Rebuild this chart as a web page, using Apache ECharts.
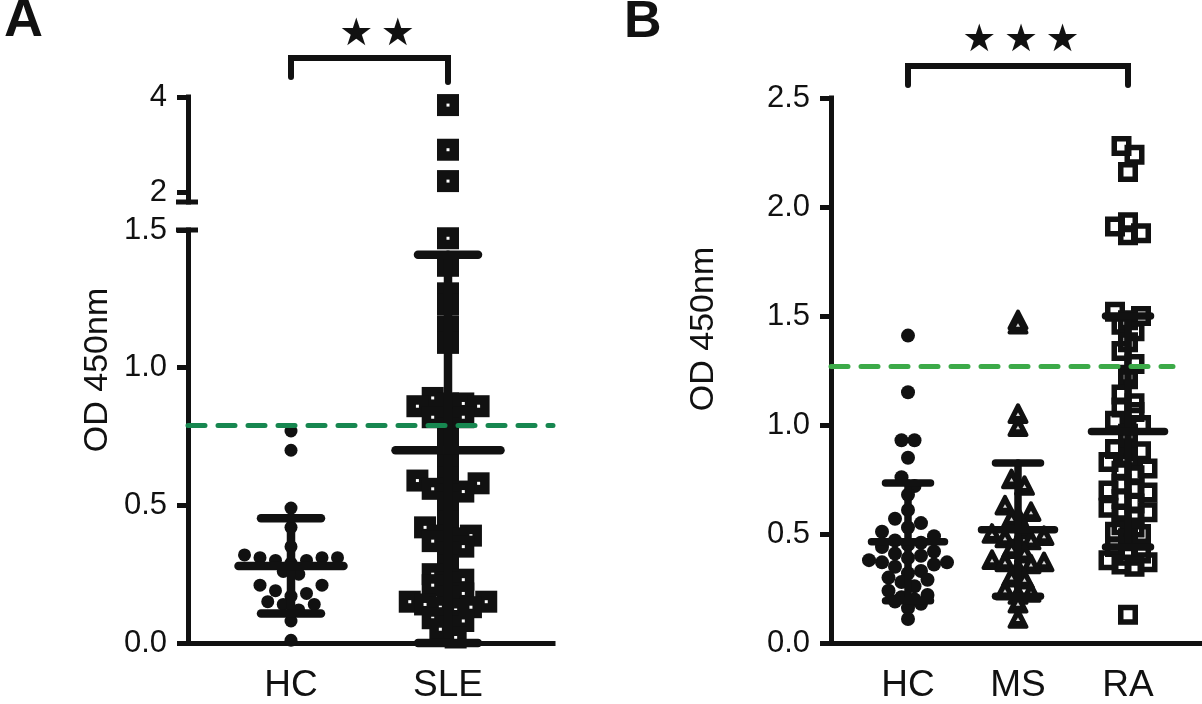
<!DOCTYPE html>
<html><head><meta charset="utf-8">
<script src="https://cdn.jsdelivr.net/npm/echarts@6/dist/echarts.min.js"></script>
<style>html,body{margin:0;padding:0;background:#fff}#c{width:1202px;height:704px}</style>
</head><body><div id="c"></div>
<script>
// ---------------- data ----------------
const catsA = ['HC', 'SLE'];
const catsB = ['HC', 'MS', 'RA'];

const hcA = [0.77, 0.70, 0.49, 0.42, 0.35, 0.32, 0.31, 0.31, 0.31, 0.30, 0.30, 0.29, 0.26, 0.25,
             0.21, 0.21, 0.19, 0.18, 0.17, 0.15, 0.14, 0.14, 0.12, 0.08, 0.01];
const sleA = [3.83, 2.89, 2.23,
              1.47, 1.37, 1.27, 1.23, 1.15, 1.09, 0.89, 0.87, 0.87, 0.86, 0.86, 0.82, 0.82, 0.81,
              0.78, 0.74, 0.66, 0.60, 0.59, 0.58, 0.56, 0.55, 0.54, 0.51, 0.44, 0.42, 0.39, 0.39,
              0.38, 0.37, 0.35, 0.33, 0.28, 0.25, 0.23, 0.22, 0.21, 0.18, 0.17, 0.15, 0.15, 0.14,
              0.13, 0.13, 0.12, 0.09, 0.08, 0.06, 0.05, 0.02];
const meanA = [0.28, 0.70];
const sdA = [0.173, 0.71];
const cutoffA = 0.792;

const hcB = [1.41, 1.15, 0.93, 0.93, 0.85, 0.76, 0.72, 0.68, 0.61, 0.57, 0.55, 0.53, 0.51, 0.49,
             0.47, 0.46, 0.45, 0.44, 0.42, 0.41, 0.40, 0.39, 0.38, 0.37, 0.37, 0.36, 0.35, 0.33,
             0.32, 0.30, 0.29, 0.28, 0.26, 0.24, 0.22, 0.21, 0.20, 0.19, 0.18, 0.16, 0.11];
const msB = [1.48, 1.46, 1.05, 0.99, 0.75, 0.72, 0.63, 0.60, 0.58, 0.57, 0.52, 0.50, 0.49, 0.48,
             0.47, 0.46, 0.43, 0.41, 0.38, 0.37, 0.37, 0.36, 0.34, 0.30, 0.29, 0.24, 0.23, 0.22,
             0.18, 0.11];
const raB = [2.28, 2.24, 2.16, 1.93, 1.91, 1.88, 1.87, 1.52, 1.50, 1.48, 1.46, 1.43, 1.38, 1.34,
             1.28, 1.23, 1.21, 1.14, 1.10, 1.08, 1.06, 1.02, 1.00, 0.96, 0.93, 0.89, 0.88, 0.85,
             0.83, 0.80, 0.79, 0.77, 0.73, 0.71, 0.70, 0.69, 0.66, 0.64, 0.62, 0.60, 0.59, 0.58,
             0.54, 0.53, 0.51, 0.50, 0.48, 0.44, 0.41, 0.40, 0.38, 0.37, 0.36, 0.35, 0.13];
const meanB = [0.464, 0.52, 0.97];
const sdB = [0.27, 0.306, 0.53];
const cutoffB = 1.27;

const ticksAUpper = [2, 4];
const ticksALower = [0, 0.5, 1.0, 1.5];
const ticksB = [0, 0.5, 1.0, 1.5, 2.0, 2.5];
const axisBreak = [1.5, 1.79];   // top of lower segment, bottom of upper segment
const starsA = '\u2605\u2009\u2605';
const starsB = '\u2605\u2009\u2605\u2009\u2605';
const yTitle = 'OD 450nm';

// ---------------- layout ----------------
const INK = '#111111';
const FONT = '"Liberation Sans", Arial, Helvetica, sans-serif';
const A = { left: 188, right: 553, lowTop: 230, bottom: 647, upTop: 97, upBottom: 202, c1: 291, step: 157 };
const B = { left: 831, right: 1200, top: 98, bottom: 646, c1: 908, step: 110, cutEnd: 1173 };
const xMinA = 1 - (A.c1 - A.left) / A.step, xMaxA = 2 + (A.right - (A.c1 + A.step)) / A.step;
const xMinB = 1 - (B.c1 - B.left) / B.step, xMaxB = 3 + (B.right - (B.c1 + 2 * B.step)) / B.step;
const pxA = (A.bottom - A.lowTop) / (axisBreak[0] - 0);
const pxB = (B.bottom - B.top) / 2.5;

// beeswarm: bin values into rows and centre each row's points horizontally
function swarm(values, pxPerUnit, binPx) {
  const binV = binPx / pxPerUnit;
  const order = values.map((v, i) => i).sort((a, b) => values[a] - values[b]);
  const bins = new Map();
  order.forEach(i => {
    const b = Math.floor(values[i] / binV);
    if (!bins.has(b)) bins.set(b, []);
    bins.get(b).push(i);
  });
  const slots = new Array(values.length).fill(0);
  bins.forEach(list => {
    const n = list.length;
    const pos = [];
    for (let k = 0; k < n; k++) pos.push(k - (n - 1) / 2);
    pos.sort((a, b) => Math.abs(a) - Math.abs(b) || b - a);
    list.forEach((idx, k) => { slots[idx] = pos[k]; });
  });
  return slots;
}
function build(values, g, pxPerUnit, binPx) {
  const s = swarm(values, pxPerUnit, binPx);
  return values.map((v, i) => [g, v, s[i]]);
}

const sleLow = sleA.filter(v => v <= axisBreak[0] + 0.05);
const sleHigh = sleA.filter(v => v > axisBreak[0] + 0.05);

function pointRender(kind, slotPx, size) {
  return function (params, api) {
    const c = api.coord([api.value(0), api.value(1)]);
    const x = c[0] + api.value(2) * slotPx, y = c[1];
    if (kind === 'dot') {
      return { type: 'circle', shape: { cx: x, cy: y, r: size / 2 }, style: { fill: INK } };
    }
    if (kind === 'thickSquare') {
      const h = size / 2;
      return { type: 'group', children: [
        { type: 'rect', shape: { x: x - h, y: y - h, width: size, height: size }, style: { fill: INK } },
        { type: 'rect', shape: { x: x - 1.5, y: y - 1.5, width: 3, height: 3 }, style: { fill: '#fff' } }
      ] };
    }
    if (kind === 'openSquare') {
      const lw = 5.5, s = size - lw;
      return { type: 'rect', shape: { x: x - s / 2, y: y - s / 2, width: s, height: s },
               style: { fill: null, stroke: INK, lineWidth: lw } };
    }
    // triangle
    const w = size / 2, hh = size * 0.42;
    return { type: 'group', children: [
      { type: 'polygon', shape: { points: [[x, y - hh], [x + w - 2, y + hh - 1], [x - w + 2, y + hh - 1]] },
        style: { fill: INK, stroke: INK, lineWidth: 4, lineJoin: 'round' } },
      { type: 'polygon', shape: { points: [[x, y - 1.5], [x + 2, y + 2], [x - 2, y + 2]] },
        style: { fill: '#ddd' } }
    ] };
  };
}

function errRender(meanW, capW, lw) {
  return function (params, api) {
    const g = api.value(0), m = api.value(1), sd = api.value(2);
    const lo = Math.max(0, m - sd), hi = m + sd;
    const pm = api.coord([g, m]), pl = api.coord([g, lo]), ph = api.coord([g, hi]);
    const st = { stroke: INK, lineWidth: lw, lineCap: 'round' };
    const ln = (x1, y1, x2, y2) => ({ type: 'line', shape: { x1, y1, x2, y2 }, style: st });
    return { type: 'group', children: [
      ln(pm[0], pl[1], pm[0], ph[1]),
      ln(pm[0] - meanW / 2, pm[1], pm[0] + meanW / 2, pm[1]),
      ln(pm[0] - capW / 2, pl[1], pm[0] + capW / 2, pl[1]),
      ln(pm[0] - capW / 2, ph[1], pm[0] + capW / 2, ph[1])
    ] };
  };
}

function capRender(params, api) {
  const c = api.coord([api.value(0), api.value(1)]);
  return { type: 'line', shape: { x1: c[0] - 12, y1: c[1], x2: c[0] + 10, y2: c[1] },
           style: { stroke: INK, lineWidth: 5 } };
}

function bracketRender(barUp, legL, legR) {
  return function (params, api) {
    const p1 = api.coord([api.value(0), api.value(2)]);
    const p2 = api.coord([api.value(1), api.value(2)]);
    const yb = p1[1] - barUp;
    return { type: 'polyline', shape: { points: [[p1[0], p1[1] - legL], [p1[0], yb], [p2[0], yb], [p2[0], p2[1] - legR]] },
             style: { fill: null, stroke: INK, lineWidth: 6, lineCap: 'round', lineJoin: 'miter' } };
  };
}

const axisLineStyle = { color: INK, width: 5, cap: 'square' };
function yAxisCfg(gi, min, max, ticks, fmt) {
  return {
    type: 'value', gridIndex: gi, min, max,
    axisLine: { show: true, onZero: false, lineStyle: axisLineStyle },
    axisTick: { show: true, customValues: ticks, length: 11, lineStyle: { color: INK, width: 5 } },
    axisLabel: { customValues: ticks, formatter: fmt, fontSize: 31, color: INK, fontFamily: FONT, margin: 21 },
    splitLine: { show: false }
  };
}
function xAxisCfg(gi, min, max, cats, show) {
  return {
    type: 'value', gridIndex: gi, min, max, show,
    axisLine: { show: true, onZero: false, lineStyle: axisLineStyle },
    axisTick: { show: false },
    axisLabel: { customValues: cats.map((c, i) => i + 1), formatter: v => cats[Math.round(v) - 1] || '',
                 fontSize: 37, color: INK, fontFamily: FONT, margin: 24 },
    splitLine: { show: false }
  };
}

const chart = echarts.init(document.getElementById('c'), null, { renderer: 'canvas' });
chart.setOption({
  animation: false,
  backgroundColor: '#fff',
  grid: [
    { left: A.left, top: A.lowTop, width: A.right - A.left, height: A.bottom - A.lowTop },
    { left: A.left, top: A.upTop, width: A.right - A.left, height: A.upBottom - A.upTop },
    { left: B.left, top: B.top, width: B.right - B.left, height: B.bottom - B.top }
  ],
  xAxis: [
    xAxisCfg(0, xMinA, xMaxA, catsA, true),
    xAxisCfg(1, xMinA, xMaxA, catsA, false),
    xAxisCfg(2, xMinB, xMaxB, catsB, true)
  ],
  yAxis: [
    yAxisCfg(0, 0, axisBreak[0], ticksALower, v => v.toFixed(1)),
    yAxisCfg(1, axisBreak[1], 4, ticksAUpper, v => String(v)),
    yAxisCfg(2, 0, 2.5, ticksB, v => v.toFixed(1))
  ],
  series: [
    // panel A points
    { type: 'custom', xAxisIndex: 0, yAxisIndex: 0, renderItem: pointRender('dot', 15.5, 13),
      data: build(hcA, 1, pxA, 15), z: 2 },
    { type: 'custom', xAxisIndex: 0, yAxisIndex: 0, renderItem: pointRender('thickSquare', 15.3, 22),
      data: build(sleLow, 2, pxA, 15), z: 2 },
    { type: 'custom', xAxisIndex: 1, yAxisIndex: 1, renderItem: pointRender('thickSquare', 15.3, 22),
      data: sleHigh.map(v => [2, v, 0]), z: 2 },
    // panel B points
    { type: 'custom', xAxisIndex: 2, yAxisIndex: 2, renderItem: pointRender('dot', 13, 14),
      data: build(hcB, 1, pxB, 14), z: 2 },
    { type: 'custom', xAxisIndex: 2, yAxisIndex: 2, renderItem: pointRender('triangle', 13, 21),
      data: build(msB, 2, pxB, 14), z: 2 },
    { type: 'custom', xAxisIndex: 2, yAxisIndex: 2, renderItem: pointRender('openSquare', 13, 20),
      data: build(raB, 3, pxB, 14), z: 2 },
    // mean / SD bars
    { type: 'custom', xAxisIndex: 0, yAxisIndex: 0, renderItem: errRender(105, 60, 8.5),
      data: meanA.map((m, i) => [i + 1, m, sdA[i]]), z: 3 },
    { type: 'custom', xAxisIndex: 2, yAxisIndex: 2, renderItem: errRender(73, 45, 7.5),
      data: meanB.map((m, i) => [i + 1, m, sdB[i]]), z: 3 },
    // cut-off lines
    { type: 'custom', xAxisIndex: 0, yAxisIndex: 0, renderItem: () => null, data: [], z: 4,
      markLine: { silent: true, symbol: 'none', label: { show: false }, animation: false,
        lineStyle: { color: '#178750', width: 5, type: [17, 13], cap: 'round' },
        data: [{ yAxis: cutoffA }] } },
    { type: 'custom', xAxisIndex: 2, yAxisIndex: 2, renderItem: () => null, data: [], z: 4,
      markLine: { silent: true, symbol: 'none', label: { show: false }, animation: false,
        lineStyle: { color: '#3caa48', width: 5, type: [17, 13], cap: 'round' },
        data: [[{ coord: [xMinB, cutoffB] }, { coord: [3 + (B.cutEnd - (B.c1 + 2 * B.step)) / B.step, cutoffB] }]] } },
    // axis break caps
    { type: 'custom', xAxisIndex: 0, yAxisIndex: 0, renderItem: capRender, data: [[xMinA, axisBreak[0]]], z: 5 },
    { type: 'custom', xAxisIndex: 1, yAxisIndex: 1, renderItem: capRender, data: [[xMinA, axisBreak[1]]], z: 5 },
    // significance brackets
    { type: 'custom', xAxisIndex: 1, yAxisIndex: 1, renderItem: bracketRender(39, 20, 15), data: [[1, 2, 4]], z: 5 },
    { type: 'custom', xAxisIndex: 2, yAxisIndex: 2, renderItem: bracketRender(32, 13, 13), data: [[1, 3, 2.5]], z: 5 }
  ],
  graphic: [
    { type: 'text', left: 4, top: -6, style: { text: 'A', font: 'bold 54px ' + FONT, fill: INK } },
    { type: 'text', left: 624, top: -3, style: { text: 'B', font: 'bold 52px ' + FONT, fill: INK } },
    { type: 'text', x: 377, y: 35, style: { text: starsA, font: '38px "DejaVu Sans"', fill: INK, align: 'center', verticalAlign: 'middle' } },
    { type: 'text', x: 1021, y: 41, style: { text: starsB, font: '38px "DejaVu Sans"', fill: INK, align: 'center', verticalAlign: 'middle' } },
    { type: 'text', x: 98, y: 370, rotation: Math.PI / 2, style: { text: yTitle, font: '34px ' + FONT, fill: INK, align: 'center', verticalAlign: 'middle' } },
    { type: 'text', x: 704, y: 329, rotation: Math.PI / 2, style: { text: yTitle, font: '34px ' + FONT, fill: INK, align: 'center', verticalAlign: 'middle' } }
  ]
});
</script>
</body></html>
